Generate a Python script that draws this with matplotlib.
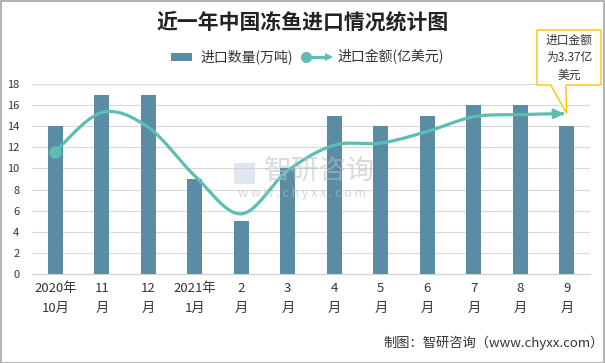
import numpy as np
import matplotlib
matplotlib.use('Agg')
import matplotlib.pyplot as plt
from matplotlib.patches import Rectangle, Polygon, FancyArrowPatch
from matplotlib.lines import Line2D
from matplotlib.transforms import IdentityTransform

plt.rcParams['font.family'] = ['Noto Sans CJK SC', 'DejaVu Sans']

months = ['2020年\n10月', '11\n月', '12\n月', '2021年\n1月', '2\n月', '3\n月',
          '4\n月', '5\n月', '6\n月', '7\n月', '8\n月', '9\n月']
volume = [14, 17, 17, 9, 5, 10, 15, 14, 15, 16, 16, 14]          # 万吨
amount = [11.6, 15.3, 13.9, 9.3, 5.7, 9.8, 12.2, 12.4, 13.5, 14.9, 15.1, 15.2]  # 亿美元

bar_color = '#5b8ca6'
line_color = '#5cbdb3'
W, H = 605, 363


def smooth(xs, ys, n=30):
    # Excel-style smoothed line (Catmull-Rom as Bezier)
    P = np.column_stack([xs, ys]).astype(float)
    out = []
    for i in range(len(P) - 1):
        p0 = P[i - 1] if i > 0 else P[i]
        p1, p2 = P[i], P[i + 1]
        p3 = P[i + 2] if i + 2 < len(P) else P[i + 1]
        c1 = p1 + (p2 - p0) / 6
        c2 = p2 - (p3 - p1) / 6
        t = np.linspace(0, 1, n)[:, None]
        seg = ((1 - t) ** 3) * p1 + 3 * ((1 - t) ** 2) * t * c1 + 3 * (1 - t) * t ** 2 * c2 + t ** 3 * p2
        out.append(seg if i == 0 else seg[1:])
    pts = np.vstack(out)
    return pts[:, 0], pts[:, 1]


fig = plt.figure(figsize=(6.05, 3.63), dpi=100)
ax = fig.add_axes([32 / W, 1 - 274 / H, 558 / W, 190 / H])

x = np.arange(len(months))
ax.bar(x, volume, width=0.32, color=bar_color, zorder=2)

sx, sy = smooth(x, amount)
ax.plot(sx[:-4], sy[:-4], color=line_color, lw=2.3, zorder=3, solid_capstyle='round')
ax.plot(x[0], amount[0], 'o', color=line_color, ms=8, zorder=4)
ax.add_patch(FancyArrowPatch((sx[-8], sy[-8]), (sx[-1], sy[-1]), arrowstyle='-|>',
                             mutation_scale=13, color=line_color, lw=2.3, zorder=4))

ax.set_xlim(-0.5, len(months) - 0.5)
ax.set_ylim(0, 18)
ax.set_yticks(range(0, 19, 2))
ax.set_xticks(x)
ax.set_xticklabels(months, fontsize=9.5, linespacing=1.65)
ax.tick_params(axis='both', length=0, colors='#333333')
ax.tick_params(axis='y', labelsize=8, pad=9)
ax.tick_params(axis='x', pad=6)
ax.grid(axis='y', color='#d9d9d9', lw=0.8, zorder=0)
for s in ['top', 'right', 'left']:
    ax.spines[s].set_visible(False)
ax.spines['bottom'].set_color('#d0d0d0')

# watermark
fig.text(319 / W, 1 - 171 / H, '智研咨询', fontsize=20, color='#b8bcc4', alpha=0.55,
         ha='center', va='center')
fig.text(302 / W, 1 - 194 / H, 'w w w . c h y x x . c o m', fontsize=9, color='#b8bcc4',
         alpha=0.6, ha='center', va='center')
fig.patches.append(Rectangle((234 / W, 1 - 184 / H), 21 / W, 21 / H, transform=fig.transFigure,
                             facecolor='#c5cde0', alpha=0.5, edgecolor='none'))

# title
fig.text(0.5, 1 - 22 / H, '近一年中国冻鱼进口情况统计图', fontsize=15, fontweight='bold',
         ha='center', va='center', color='#222222')

# legend
ly = H - 57
fig.patches.append(Rectangle((171, ly - 4), 21, 8, transform=IdentityTransform(),
                             facecolor=bar_color, edgecolor='none'))
fig.text(200 / W, ly / H, '进口数量(万吨)', fontsize=10, va='center', color='#333333')
fig.lines.append(Line2D([306, 326], [ly, ly], transform=IdentityTransform(), color=line_color, lw=2.3))
fig.lines.append(Line2D([306], [ly], transform=IdentityTransform(), color=line_color, marker='o', ms=7))
fig.patches.append(Polygon([[325, ly + 4], [333, ly], [325, ly - 4]], transform=IdentityTransform(),
                           facecolor=line_color, edgecolor='none'))
fig.text(337 / W, ly / H, '进口金额(亿美元)', fontsize=10, va='center', color='#333333')

# callout anchored to last point
fig.canvas.draw()
tx, ty = ax.transData.transform((x[-1], amount[-1]))
bl, br, bb, bt = 537, 601, H - 85, H - 30
callout = Polygon([[bl, bt], [br, bt], [br, bb], [tx - 1, bb], [tx, ty], [tx - 16, bb], [bl, bb]],
                  transform=IdentityTransform(), facecolor='white', edgecolor='#ffc000', lw=1, zorder=5)
fig.patches.append(callout)
fig.text((bl + br) / 2 / W, (bb + bt) / 2 / H, '进口金额\n为3.37亿\n美元', fontsize=8.5,
         ha='center', va='center', color='#333333', linespacing=1.45, zorder=6)

# source
fig.text(383 / W, 1 - 343 / H, '制图：智研咨询（www.chyxx.com）', fontsize=9.5, ha='left',
         va='center', color='#333333')

# border
fig.patches.append(Rectangle((0.5, 0.5), W - 1.5, H - 1.5, transform=IdentityTransform(),
                             facecolor='none', edgecolor='#a6a6a6', lw=1.2))

fig.savefig('out.png', dpi=100)
